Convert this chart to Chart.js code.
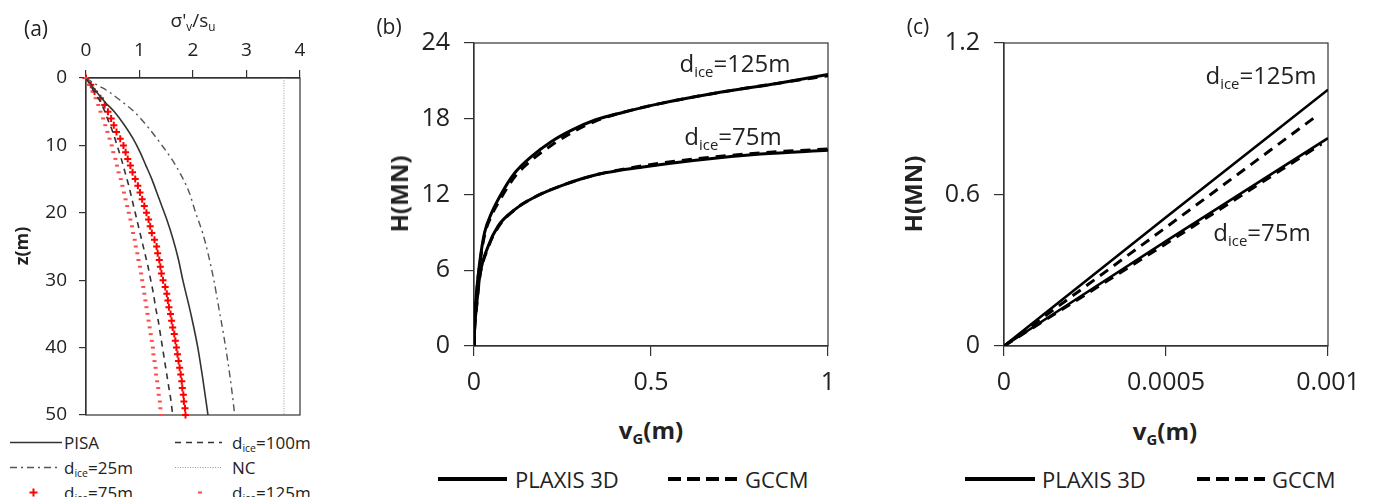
<!DOCTYPE html>
<html>
<head>
<meta charset="utf-8">
<script src="https://cdn.jsdelivr.net/npm/chart.js@4.4.1/dist/chart.umd.min.js"></script>
<style>
  html, body { margin: 0; padding: 0; background: #fff; }
  body { width: 1379px; height: 497px; position: relative; overflow: hidden; font-family: "Open Sans", sans-serif; color: #222; }
  .box { position: absolute; }
  .lbl { position: absolute; transform: translate(-50%, -50%); white-space: nowrap; line-height: 1; }
  .rot { transform: translate(-50%, -50%) rotate(-90deg); }
  .b { font-weight: bold; }
  .lbl sub { font-size: 62%; vertical-align: -0.35em; line-height: 0; }
  .leg { position: absolute; display: flex; align-items: center; transform: translateY(-50%); white-space: nowrap; line-height: 1; }
  .leg sub { font-size: 62%; vertical-align: -0.35em; line-height: 0; }
  .leg svg { display: block; }
</style>
</head>
<body>
<div class="box" style="left:0;top:0;width:330px;height:430px"><canvas id="chart-a" width="330" height="430"></canvas></div>
<div class="box" style="left:360px;top:0;width:480px;height:400px"><canvas id="chart-b" width="480" height="400"></canvas></div>
<div class="box" style="left:890px;top:0;width:480px;height:400px"><canvas id="chart-c" width="480" height="400"></canvas></div>

<!-- panel a texts -->
<div class="lbl" style="left:36px;top:28px;font-size:21px">(a)</div>
<div class="lbl" style="left:193px;top:20px;font-size:19px">σ'<sub>v</sub>/s<sub>u</sub></div>
<div class="lbl rot b" style="left:21px;top:246px;font-size:18px">z(m)</div>

<div class="leg" style="left:10px;top:442px;font-size:17px"><svg width="52" height="10"><line x1="0" y1="5" x2="52" y2="5" stroke="#333" stroke-width="1.6"/></svg><span style="margin-left:2px">PISA</span></div>
<div class="leg" style="left:175px;top:442px;font-size:17px"><svg width="47" height="10"><line x1="0" y1="5" x2="47" y2="5" stroke="#333" stroke-width="1.6" stroke-dasharray="6,5"/></svg><span style="margin-left:10px">d<sub>ice</sub>=100m</span></div>
<div class="leg" style="left:10px;top:467px;font-size:17px"><svg width="47" height="10"><line x1="0" y1="5" x2="47" y2="5" stroke="#555" stroke-width="1.4" stroke-dasharray="7,4,2,4"/></svg><span style="margin-left:7px">d<sub>ice</sub>=25m</span></div>
<div class="leg" style="left:175px;top:467px;font-size:17px"><svg width="47" height="10"><line x1="0" y1="5" x2="47" y2="5" stroke="#999" stroke-width="1" stroke-dasharray="1,1.5"/></svg><span style="margin-left:10px">NC</span></div>
<div class="leg" style="left:10px;top:492px;font-size:17px"><svg width="47" height="12"><path d="M23.5 2 V10 M19.5 6 H27.5" stroke="#f00" stroke-width="2"/></svg><span style="margin-left:7px">d<sub>ice</sub>=75m</span></div>
<div class="leg" style="left:175px;top:492px;font-size:17px"><svg width="47" height="12"><line x1="23" y1="6" x2="27" y2="6" stroke="#ff4a4a" stroke-width="2"/></svg><span style="margin-left:10px">d<sub>ice</sub>=125m</span></div>

<!-- panel b texts -->
<div class="lbl" style="left:389px;top:26px;font-size:21px">(b)</div>
<div class="lbl rot b" style="left:399px;top:194px;font-size:24px">H(MN)</div>
<div class="lbl b" style="left:651px;top:430px;font-size:24px">v<sub>G</sub>(m)</div>
<div class="lbl" style="left:735px;top:63px;font-size:24px">d<sub>ice</sub>=125m</div>
<div class="lbl" style="left:733px;top:136px;font-size:24px">d<sub>ice</sub>=75m</div>
<div class="leg" style="left:438px;top:479px;font-size:22px"><svg width="69" height="10"><line x1="0" y1="5" x2="69" y2="5" stroke="#000" stroke-width="4"/></svg><span style="margin-left:8px">PLAXIS 3D</span></div>
<div class="leg" style="left:668px;top:479px;font-size:22px"><svg width="69" height="10"><line x1="0" y1="5" x2="69" y2="5" stroke="#000" stroke-width="4" stroke-dasharray="13,6"/></svg><span style="margin-left:8px">GCCM</span></div>

<!-- panel c texts -->
<div class="lbl" style="left:918px;top:26px;font-size:21px">(c)</div>
<div class="lbl rot b" style="left:913px;top:194px;font-size:24px">H(MN)</div>
<div class="lbl b" style="left:1165px;top:431px;font-size:24px">v<sub>G</sub>(m)</div>
<div class="lbl" style="left:1261px;top:75px;font-size:24px">d<sub>ice</sub>=125m</div>
<div class="lbl" style="left:1262px;top:232px;font-size:24px">d<sub>ice</sub>=75m</div>
<div class="leg" style="left:965px;top:479px;font-size:22px"><svg width="70" height="10"><line x1="0" y1="5" x2="70" y2="5" stroke="#000" stroke-width="4"/></svg><span style="margin-left:7px">PLAXIS 3D</span></div>
<div class="leg" style="left:1197px;top:479px;font-size:22px"><svg width="68" height="10"><line x1="0" y1="5" x2="68" y2="5" stroke="#000" stroke-width="4" stroke-dasharray="13,6"/></svg><span style="margin-left:7px">GCCM</span></div>

<script>
// (a) perfiles sigma'v/su con la profundidad
const depthPisa = [0, 2, 3.7, 5, 7, 9, 11, 13, 15, 18, 21, 24, 27, 30, 35, 40, 45, 50];
const ratioPisa = [0, 0.19, 0.37, 0.53, 0.72, 0.88, 1.01, 1.12, 1.23, 1.37, 1.51, 1.63, 1.73, 1.81, 1.96, 2.09, 2.19, 2.28];

const depthIce25 = [0, 1, 2, 3.5, 5, 7.5, 10, 12, 14, 17, 20, 23, 26, 30, 34, 38, 42, 46, 50];
const ratioIce25 = [0, 0.2, 0.42, 0.67, 0.9, 1.18, 1.42, 1.6, 1.75, 1.93, 2.05, 2.18, 2.28, 2.39, 2.48, 2.57, 2.65, 2.72, 2.78];

const depthIce100 = [0, 2, 4, 6, 8, 10, 12, 14, 16, 18, 20, 22, 24, 26, 28, 30, 32, 34, 36, 38, 40, 42, 44, 46, 48, 50];
const ratioIce100 = [0, 0.15, 0.3, 0.4, 0.5, 0.58, 0.66, 0.73, 0.8, 0.86, 0.92, 0.98, 1.04, 1.1, 1.16, 1.21, 1.26, 1.3, 1.35, 1.39, 1.43, 1.47, 1.51, 1.55, 1.59, 1.62];

const depthMarkers = [0, 1, 2, 3, 4, 5, 6, 7, 8, 9, 10, 11, 12, 13, 14, 15, 16, 17, 18, 19, 20, 21, 22, 23, 24, 25,
  26, 27, 28, 29, 30, 31, 32, 33, 34, 35, 36, 37, 38, 39, 40, 41, 42, 43, 44, 45, 46, 47, 48, 49, 50];
const ratioIce75 = [0, 0.09, 0.16, 0.27, 0.35, 0.41, 0.47, 0.52, 0.57, 0.64, 0.7, 0.74, 0.78, 0.83, 0.87, 0.92, 0.97, 1.01, 1.05, 1.09, 1.13, 1.17, 1.2, 1.23, 1.28, 1.32,
  1.34, 1.37, 1.39, 1.41, 1.44, 1.48, 1.51, 1.53, 1.55, 1.58, 1.6, 1.62, 1.65, 1.67, 1.69, 1.71, 1.73, 1.75, 1.77, 1.79, 1.8, 1.82, 1.83, 1.85, 1.86];
const ratioIce125 = [0, 0.06, 0.12, 0.18, 0.23, 0.27, 0.32, 0.36, 0.4, 0.44, 0.48, 0.51, 0.55, 0.58, 0.61, 0.65, 0.68, 0.71, 0.74, 0.77, 0.8, 0.83, 0.86, 0.88, 0.91, 0.93,
  0.96, 0.98, 1.01, 1.03, 1.05, 1.07, 1.09, 1.11, 1.13, 1.15, 1.17, 1.19, 1.21, 1.23, 1.25, 1.26, 1.28, 1.3, 1.31, 1.33, 1.35, 1.36, 1.38, 1.39, 1.41];

const depthNC = [0, 50];
const ratioNC = [3.7, 3.7];

const ticksA_x = [0, 1, 2, 3, 4];
const ticksA_y = [0, 10, 20, 30, 40, 50];

// (b) curvas H - vG
const vB125Plaxis = [0, 0.002, 0.007, 0.016, 0.03, 0.049, 0.078, 0.115, 0.162, 0.219, 0.276, 0.342, 0.42, 0.525, 0.676, 0.856, 1.0];
const hB125Plaxis = [0, 2.0, 4.2, 6.6, 9.0, 10.5, 12.1, 13.7, 15.0, 16.2, 17.1, 17.9, 18.5, 19.2, 20.0, 20.8, 21.5];
const vB125Gccm = [0, 0.002, 0.007, 0.016, 0.03, 0.049, 0.078, 0.115, 0.162, 0.219, 0.276, 0.342, 0.42, 0.525, 0.676, 0.856, 1.0];
const hB125Gccm = [0, 2.0, 4.1, 6.4, 8.8, 10.3, 11.8, 13.4, 14.7, 15.9, 16.9, 17.8, 18.5, 19.2, 20.0, 20.8, 21.4];
const vB75Plaxis = [0, 0.002, 0.007, 0.016, 0.04, 0.068, 0.115, 0.172, 0.257, 0.351, 0.483, 0.62, 0.81, 1.0];
const hB75Plaxis = [0, 1.5, 3.1, 5.5, 7.9, 9.5, 10.8, 11.8, 12.8, 13.6, 14.2, 14.7, 15.2, 15.5];
const vB75Gccm = [0, 0.002, 0.007, 0.016, 0.04, 0.068, 0.115, 0.172, 0.257, 0.351, 0.483, 0.62, 0.81, 1.0];
const hB75Gccm = [0, 1.4, 3.0, 5.4, 7.8, 9.4, 10.8, 11.8, 12.8, 13.6, 14.3, 14.8, 15.3, 15.6];

const ticksB_x = [0, 0.5, 1];
const ticksB_y = [0, 6, 12, 18, 24];

// (c) zona inicial
const vC125Plaxis = [0, 0.0005, 0.001];
const hC125Plaxis = [0, 0.51, 1.015];
const vC125Gccm = [0, 0.0005, 0.00097];
const hC125Gccm = [0, 0.47, 0.916];
const vC75Plaxis = [0, 0.0005, 0.001];
const hC75Plaxis = [0, 0.415, 0.823];
const vC75Gccm = [0, 0.0005, 0.00098];
const hC75Gccm = [0, 0.405, 0.8];

const ticksC_x = [0, 0.0005, 0.001];
const ticksC_y = [0, 0.6, 1.2];

function pairs(xs, ys) {
  return xs.map((x, i) => ({ x: x, y: ys[i] }));
}

function tickLabel(v) {
  return String(Number(v.toPrecision(6)));
}

// marco completo alrededor del area de trazado
const framePlugin = {
  id: 'frame',
  beforeDatasetsDraw(chart) {
    const a = chart.chartArea;
    const ctx = chart.ctx;
    ctx.save();
    ctx.strokeStyle = '#333';
    ctx.lineWidth = 1.2;
    ctx.strokeRect(a.left, a.top, a.right - a.left, a.bottom - a.top);
    ctx.restore();
  }
};

function axisOpts(cfg) {
  return {
    type: 'linear',
    position: cfg.position,
    reverse: !!cfg.reverse,
    min: cfg.ticks[0],
    max: cfg.ticks[cfg.ticks.length - 1],
    afterBuildTicks: (scale) => { scale.ticks = cfg.ticks.map((v) => ({ value: v })); },
    afterFit: (scale) => {
      // el area de trazado la fija el padding del layout
      scale.paddingTop = 0;
      scale.paddingBottom = 0;
      scale.paddingLeft = 0;
      scale.paddingRight = 0;
      if (cfg.position === 'left') scale.width = cfg.size;
      else scale.height = cfg.size;
    },
    grid: { drawOnChartArea: false, drawTicks: true, tickLength: cfg.tickLength, color: '#333', lineWidth: 1.2 },
    border: { display: true, color: '#333', width: 1.2 },
    ticks: {
      color: '#222',
      padding: cfg.padding,
      font: { size: cfg.fontSize, family: 'Open Sans' },
      maxRotation: 0,
      autoSkip: false,
      callback: (v) => tickLabel(v)
    }
  };
}

function makeChart(id, datasets, xCfg, yCfg, padding) {
  new Chart(document.getElementById(id), {
    type: 'scatter',
    data: { datasets: datasets },
    options: {
      responsive: false,
      animation: false,
      layout: { padding: padding },
      plugins: { legend: { display: false }, tooltip: { enabled: false } },
      elements: { point: { radius: 0 } },
      scales: { x: axisOpts(xCfg), y: axisOpts(yCfg) }
    },
    plugins: [framePlugin]
  });
}

function lineSet(data, color, width, dash) {
  return {
    data: data,
    showLine: true,
    borderColor: color,
    backgroundColor: color,
    borderWidth: width,
    borderDash: dash || [],
    pointRadius: 0,
    cubicInterpolationMode: 'monotone'
  };
}

function markerSet(data, style, radius, color, width) {
  return {
    data: data,
    showLine: false,
    pointStyle: style,
    pointRadius: radius,
    pointBorderColor: color,
    pointBackgroundColor: color,
    pointBorderWidth: width,
    clip: false
  };
}

makeChart('chart-a', [
  lineSet(pairs(ratioNC, depthNC), '#999', 1, [1, 1.5]),
  lineSet(pairs(ratioIce25, depthIce25), '#555', 1.4, [7, 4, 2, 4]),
  lineSet(pairs(ratioPisa, depthPisa), '#333', 1.6),
  lineSet(pairs(ratioIce100, depthIce100), '#333', 1.6, [6, 5]),
  markerSet(pairs(ratioIce125, depthMarkers), 'line', 2, '#ff4a4a', 2),
  markerSet(pairs(ratioIce75, depthMarkers), 'cross', 3.5, '#ff0000', 2)
], { position: 'top', ticks: ticksA_x, size: 78, tickLength: 8, padding: 8, fontSize: 19 },
   { position: 'left', ticks: ticksA_y, reverse: true, size: 86, tickLength: 7, padding: 12, fontSize: 19 },
   { top: 0, left: 0, right: 30, bottom: 15 });

makeChart('chart-b', [
  lineSet(pairs(vB125Gccm, hB125Gccm), '#000', 3, [10, 7]),
  lineSet(pairs(vB75Gccm, hB75Gccm), '#000', 3, [10, 7]),
  lineSet(pairs(vB125Plaxis, hB125Plaxis), '#000', 3),
  lineSet(pairs(vB75Plaxis, hB75Plaxis), '#000', 3)
], { position: 'bottom', ticks: ticksB_x, size: 54, tickLength: 10, padding: 12, fontSize: 25 },
   { position: 'left', ticks: ticksB_y, size: 114, tickLength: 10, padding: 14, fontSize: 25 },
   { top: 43, left: 0, right: 12, bottom: 0 });

makeChart('chart-c', [
  lineSet(pairs(vC125Gccm, hC125Gccm), '#000', 3, [10, 7]),
  lineSet(pairs(vC75Gccm, hC75Gccm), '#000', 3, [10, 7]),
  lineSet(pairs(vC125Plaxis, hC125Plaxis), '#000', 2.6),
  lineSet(pairs(vC75Plaxis, hC75Plaxis), '#000', 2.6)
], { position: 'bottom', ticks: ticksC_x, size: 54, tickLength: 10, padding: 12, fontSize: 25 },
   { position: 'left', ticks: ticksC_y, size: 114, tickLength: 10, padding: 14, fontSize: 25 },
   { top: 43, left: 0, right: 42, bottom: 0 });
</script>
</body>
</html>
